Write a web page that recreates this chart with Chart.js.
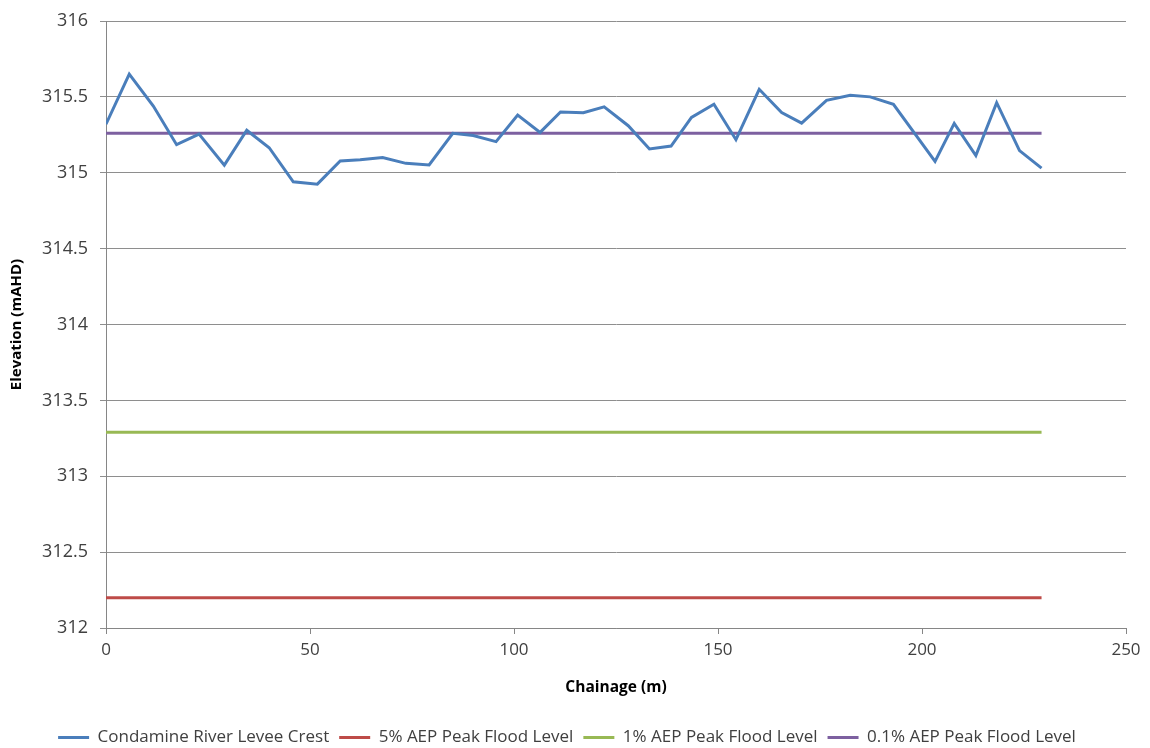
<!DOCTYPE html>
<html>
<head>
<meta charset="utf-8">
<script src="https://cdn.jsdelivr.net/npm/chart.js@4"></script>
<style>
  html, body { margin: 0; padding: 0; background: #fff; }
</style>
</head>
<body>
<canvas id="levee" width="1150" height="748"></canvas>
<script>
// chainage (m) and crest elevation (mAHD)
const chainage = [0, 5.7, 11.6, 17.3, 22.8, 29.0, 34.5, 40.0, 45.9, 51.8, 57.4, 62.3, 67.8, 73.5, 79.2,
  85.0, 90.0, 95.6, 100.9, 106.4, 111.4, 117.0, 122.1, 128.0, 133.2, 138.5, 143.5, 149.0, 154.4,
  160.1, 165.6, 170.5, 176.6, 182.4, 187.3, 193.0, 203.2, 207.9, 213.2, 218.3, 223.9, 229.3];
const crest = [315.32, 315.65, 315.44, 315.185, 315.255, 315.05, 315.28, 315.165, 314.94, 314.925, 315.077, 315.086,
  315.10, 315.062, 315.051, 315.26, 315.245, 315.205, 315.38, 315.266, 315.40, 315.395, 315.434, 315.31,
  315.157, 315.176, 315.365, 315.451, 315.218, 315.55, 315.397, 315.327, 315.477, 315.51, 315.50,
  315.451, 315.075, 315.325, 315.113, 315.462, 315.146, 315.03];

// peak flood levels, drawn flat across the levee length
const floodStart = 0;
const floodEnd = 229.3;
const aep5 = 312.2;
const aep1 = 313.29;
const aep01 = 315.26;

const seriesNames = ['Condamine River Levee Crest', '5% AEP Peak Flood Level', '1% AEP Peak Flood Level', '0.1% AEP Peak Flood Level'];
const seriesColours = ['#4a7ebb', '#be4b48', '#98b954', '#7d60a0'];

const font = "'Open Sans', 'Liberation Sans', sans-serif";

function flat(level) {
  return [{ x: floodStart, y: level }, { x: floodEnd, y: level }];
}

const crestPts = chainage.map((c, i) => ({ x: c, y: crest[i] }));
const allData = [crestPts, flat(aep5), flat(aep1), flat(aep01)];

const ctx = document.getElementById('levee').getContext('2d');
new Chart(ctx, {
  type: 'scatter',
  data: {
    datasets: seriesNames.map((name, i) => ({
      label: name,
      data: allData[i],
      showLine: true,
      borderColor: seriesColours[i],
      backgroundColor: seriesColours[i],
      borderWidth: 3,
      pointRadius: 0,
      tension: 0,
      order: i === 0 ? 0 : 1
    }))
  },
  options: {
    responsive: false,
    animation: false,
    layout: { autoPadding: false, padding: { left: 8, right: 24, top: 18, bottom: -8 } },
    plugins: {
      tooltip: { enabled: false },
      legend: {
        position: 'bottom',
        labels: {
          boxWidth: 31,
          boxHeight: 3,
          padding: 10,
          color: '#404040',
          font: { family: font, size: 17 },
          generateLabels: chart => chart.data.datasets.map((ds, i) => ({
            text: ds.label,
            fillStyle: ds.borderColor,
            strokeStyle: ds.borderColor,
            lineWidth: 0,
            datasetIndex: i,
            fontColor: '#404040'
          }))
        }
      }
    },
    scales: {
      x: {
        type: 'linear',
        min: 0,
        max: 250,
        ticks: { stepSize: 50, color: '#404040', font: { family: font, size: 17 }, padding: 6 },
        grid: { display: true, drawOnChartArea: false, color: '#868686', tickLength: 6 },
        border: { color: '#868686' },
        title: { display: true, text: 'Chainage (m)', color: '#000', font: { family: font, size: 15.5, weight: 'bold' }, padding: { top: 4, bottom: 22 } },
        afterFit: scale => { scale.height = 91; }
      },
      y: {
        min: 312,
        max: 316,
        ticks: {
          stepSize: 0.5, color: '#404040', font: { family: font, size: 18, lineHeight: 1 }, padding: 12,
          callback: v => String(+v.toFixed(1))
        },
        grid: { color: '#8e8e8e', tickLength: 6 },
        border: { color: '#868686' },
        title: { display: true, text: 'Elevation (mAHD)', color: '#000', font: { family: font, size: 15, weight: 'bold' }, padding: 0 },
        afterFit: scale => { scale.width = 98; }
      }
    }
  }
});
</script>
</body>
</html>
